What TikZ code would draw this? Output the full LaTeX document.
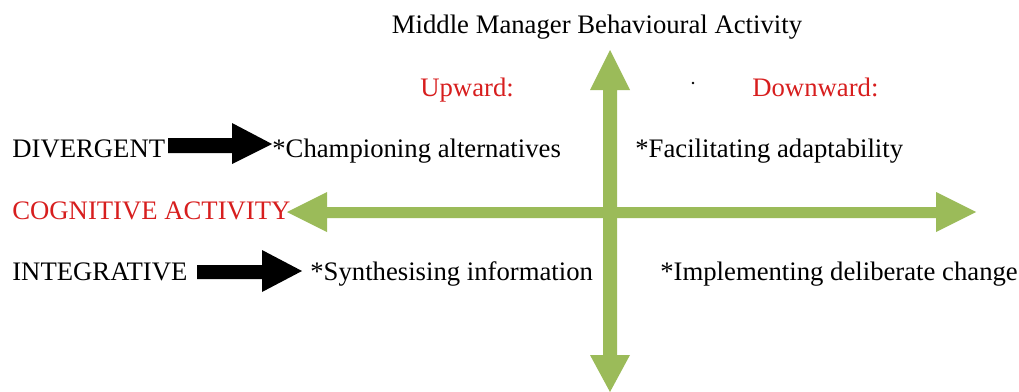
\documentclass[tikz,border=0pt]{standalone}
\usepackage{fontspec}
\setmainfont{Liberation Serif}
\definecolor{arrowgreen}{RGB}{155,187,89}
\definecolor{labelred}{RGB}{215,30,30}
\tikzset{
    lbl/.style={inner sep=0pt, anchor=base west, font=\fontsize{15.2}{18}\selectfont},
    redlbl/.style={lbl, text=labelred},
}

\begin{document}
\begin{tikzpicture}[x=0.02cm, y=-0.02cm]
    \useasboundingbox (0,0) rectangle (1019,392);

    % green axes
    \fill[arrowgreen](603,90)--(590,90)--(610,50)--(630,90)--(617,90)--(617,355)--(630,355)--(610,392)--(590,355)--(603,355)--cycle;
    \fill[arrowgreen](327,207)--(327,192)--(287,212)--(327,232)--(327,218)--(936,218)--(936,232)--(976,212)--(936,192)--(936,207)--cycle;

    % black arrows
    \fill[black](168,138)--(232,138)--(232,123)--(272,144)--(232,164)--(232,153)--(168,153)--cycle;
    \fill[black](197,265)--(262,265)--(262,250)--(302,271)--(262,292)--(262,279)--(197,279)--cycle;

    \fill[black](693,83) circle (1.3);

    % labels
    \node[lbl, anchor=base] (title) at (597,33) {Middle Manager Behavioural Activity};
    \node[redlbl] (up) at (420,96) {Upward:};
    \node[redlbl] (down) at (752,96) {Downward:};

    \node[lbl] (div) at (12,157) {DIVERGENT};
    \node[lbl] (champ) at (272,157) {*Championing alternatives};
    \node[lbl] (facil) at (635,157) {*Facilitating adaptability};

    \node[redlbl] (cog) at (12,219) {COGNITIVE ACTIVITY};

    \node[lbl] (integ) at (12,280) {INTEGRATIVE};
    \node[lbl] (synth) at (310,280) {*Synthesising information};
    \node[lbl] (impl) at (660,280) {*Implementing deliberate change};
\end{tikzpicture}
\end{document}
